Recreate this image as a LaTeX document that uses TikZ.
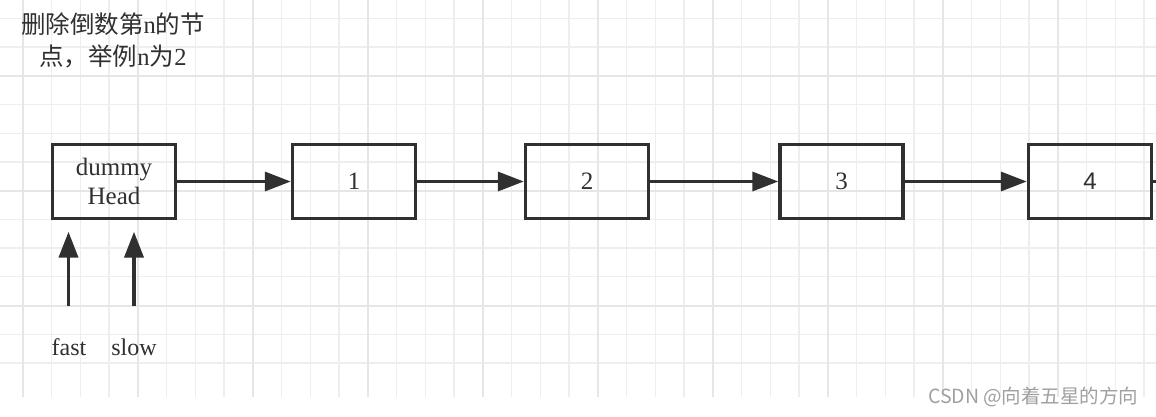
\documentclass[tikz,border=0pt]{standalone}
\usepackage{fontspec}
\setmainfont{Liberation Serif}
\newfontfamily\cjk{Noto Sans CJK SC}
\newfontfamily\arial{Liberation Sans}
\usetikzlibrary{arrows.meta}
\definecolor{ink}{HTML}{303030}
\definecolor{gridthin}{HTML}{EEEEEE}
\definecolor{gridthick}{HTML}{E6E6E6}
\definecolor{wmark}{HTML}{A0A0A0}

\begin{document}
\begin{tikzpicture}[x=1pt,y=-1pt,
  cell/.style={draw=ink,line width=3.4pt,minimum width=123pt,minimum height=74pt,inner sep=0pt,text=ink,font=\fontsize{25}{29}\selectfont,align=center},
  link/.style={ink,line width=3.4pt,-{Triangle[length=26pt,width=19pt]}},
  ptr/.style={ink,line width=3.9pt,-{Triangle[length=26pt,width=19pt]},shorten >=11.5pt},
  lbl/.style={text=ink,font=\fontsize{24}{26}\selectfont}]
	\useasboundingbox[fill=white] (0,0) rectangle (1156,416);
	% background grid
	\foreach \k[evaluate=\k as \gx using 22.7+28.75*\k] in {0,...,39}
	  \draw[gridthin,line width=1.2pt] (\gx,0)--(\gx,396.7);
	\foreach \j[evaluate=\j as \gy using 18.3+28.72*\j] in {0,...,12}
	  \draw[gridthin,line width=1.2pt] (0,\gy)--(1156,\gy);
	\foreach \k[evaluate=\k as \gx using 22.7+28.75*\k] in {0,4,...,36}
	  \draw[gridthick,line width=2pt] (\gx,0)--(\gx,396.7);
	\foreach \j[evaluate=\j as \gy using 18.3+28.72*\j] in {2,6,10}
	  \draw[gridthick,line width=2pt] (0,\gy)--(1156,\gy);
	% list
	\node[text=ink,font=\fontsize{24.5}{32}\selectfont,align=center] (task) at (113,40)
	  {{\cjk 删除倒数第}n{\cjk 的节}\\{\cjk 点，举例}n{\cjk 为}2};
	\node[cell] (dummy) at (114,181.5) {dummy\\Head};
	\node[cell] (n1) at (354,181.5) {1};
	\node[cell] (n2) at (587,181.5) {2};
	\node[cell] (n3) at (841.5,181.5) {3};
	\node[cell,font=\arial\fontsize{24}{28}\selectfont] (n4) at (1090,181.5) {4};
	\coordinate (tail) at (1180,181.5);
	\draw[link] (dummy)--(n1);
	\draw[link] (n1)--(n2);
	\draw[link] (n2)--(n3);
	\draw[link] (n3)--(n4);
	\draw[ink,line width=3.4pt] (n4)--(tail);
	% pointers
	\node[lbl] (fast) at (69,347) {fast};
	\node[lbl] (slow) at (134,347) {slow};
	\coordinate (fastfoot) at (68.5,306);
	\coordinate (slowfoot) at (134,306);
	\draw[ptr] (fastfoot)--(fastfoot|-dummy.south);
	\draw[ptr] (slowfoot)--(slowfoot|-dummy.south);
	\node[text=wmark,font=\cjk\fontsize{19.5}{21}\selectfont,anchor=east] (mark) at (1142,397) {CSDN @向着五星的方向};
\end{tikzpicture}
\end{document}
